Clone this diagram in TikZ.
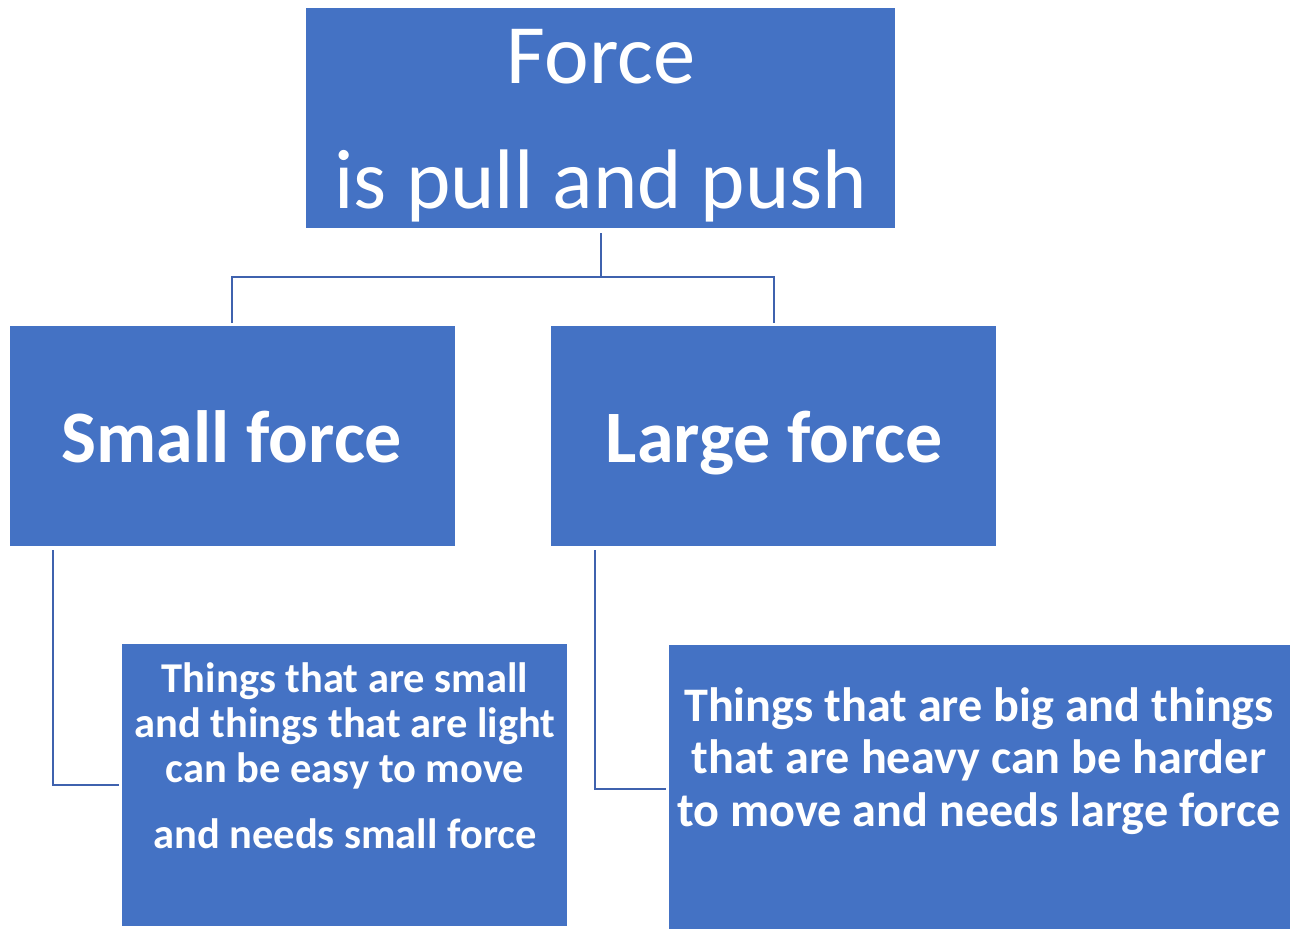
\documentclass[tikz,border=0pt]{standalone}
\usepackage{fontspec}
\setmainfont{Carlito}
\definecolor{boxblue}{HTML}{4472C4}
\definecolor{linkblue}{HTML}{3F62AE}
\tikzset{
  box/.style={rectangle, fill=boxblue, draw=none, inner sep=0pt},
  label/.style={text=white, align=center, inner sep=0pt},
  link/.style={draw=linkblue, line width=2.5pt}
}
\begin{document}
\begin{tikzpicture}[x=1pt,y=-1pt]
\useasboundingbox (0,0) rectangle (1291,930);
% boxes
\node[box, minimum width=589pt, minimum height=220pt] (top) at (600.5,118) {};
\node[box, minimum width=445pt, minimum height=220pt] (small) at (232.5,436) {};
\node[box, minimum width=445pt, minimum height=220pt] (large) at (773.5,436) {};
\node[box, minimum width=445pt, minimum height=282pt] (sdesc) at (344.5,785) {};
\node[box, minimum width=621pt, minimum height=284pt] (ldesc) at (979.5,787) {};
% texts
\node[label, font=\fontsize{84.5}{125}\selectfont] (toptext) at (601,126) {Force\\is pull and push};
\node[label, anchor=base, font=\fontsize{74}{90}\selectfont\bfseries] (smalltext) at (232,462) {Small force};
\node[label, anchor=base, font=\fontsize{74}{90}\selectfont\bfseries] (largetext) at (774.5,462) {Large force};
\node[label, font=\fontsize{42.5}{45}\selectfont\bfseries] (sdtext) at (345,756) {Things that are small\\and things that are light\\can be easy to move\\[21pt]and needs small force};
\node[label, font=\fontsize{48.2}{52.5}\selectfont\bfseries] (ldtext) at (979,761) {Things that are big and things\\that are heavy can be harder\\to move and needs large force};
% connectors
\coordinate (tb) at (601,233);
\coordinate (hl) at (232,277);
\coordinate (hr) at (774,277);
\draw[link] (tb) -- (601,277);
\draw[link] (232,323) -- (hl) -- (hr) -- (774,323);
\draw[link] (53,550) |- ([xshift=-3pt]sdesc.west |- 0,785);
\draw[link] (595,550) |- ([xshift=-3pt]ldesc.west |- 0,789);
\end{tikzpicture}
\end{document}
